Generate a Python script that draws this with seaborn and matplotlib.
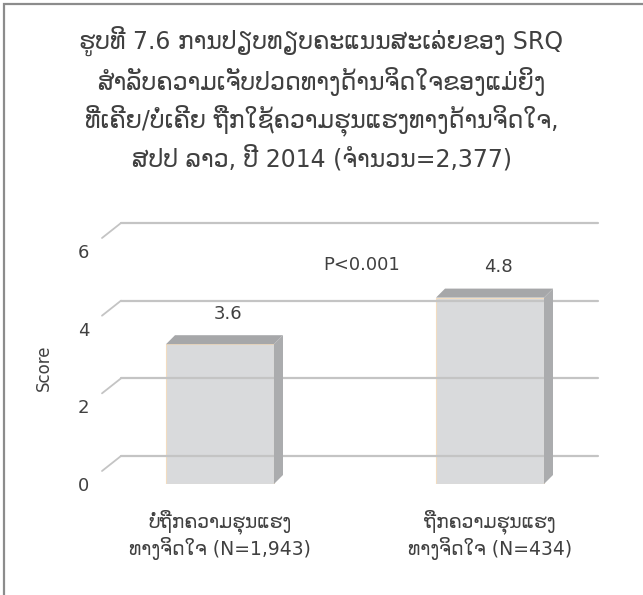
import matplotlib
matplotlib.use("Agg")
import matplotlib.pyplot as plt
import seaborn as sns
import pandas as pd
from matplotlib.patches import Polygon, Rectangle
from matplotlib.lines import Line2D
from matplotlib.transforms import IdentityTransform

# data
title = ("ຮູບທີ 7.6 ການປຽບທຽບຄະແນນສະເລ່ຍຂອງ SRQ\n"
         "ສໍາລັບຄວາມເຈັບປວດທາງດ້ານຈິດໃຈຂອງແມ່ຍິງ\n"
         "ທີ່ເຄີຍ/ບໍ່ເຄີຍ ຖືກໃຊ້ຄວາມຮຸນແຮງທາງດ້ານຈິດໃຈ,\n"
         "ສປປ ລາວ, ປີ 2014 (ຈໍານວນ=2,377)")
groups = ["ບໍ່ຖືກຄວາມຮຸນແຮງ\nທາງຈິດໃຈ (N=1,943)",
          "ຖືກຄວາມຮຸນແຮງ\nທາງຈິດໃຈ (N=434)"]
scores = [3.6, 4.8]
yticks = [0, 2, 4, 6]
p_text = "P<0.001"

sns.set_style("white")
plt.rcParams['font.family'] = ['DejaVu Sans']
txt = '#404040'

W, H = 643, 595
fig = plt.figure(figsize=(W / 100, H / 100), dpi=100)
ax = fig.add_axes([102 / W, (H - 484) / H, 496 / W, 233 / H])

df = pd.DataFrame({'group': groups, 'score': scores})
sns.barplot(data=df, x='group', y='score', color='#d9dadc', width=0.4,
            saturation=1, edgecolor='#f2dcc0', linewidth=0.8, ax=ax, zorder=3)
ax.set_xlim(-0.437, 1.4)
ax.set_ylim(0, 6)
sns.despine(ax=ax, left=True, bottom=True, top=True, right=True)

ax.set_yticks(yticks)
ax.set_yticklabels([str(t) for t in yticks], fontsize=13, color=txt)
ax.tick_params(axis='y', length=0, pad=9)
ax.tick_params(axis='x', length=0, pad=18)
ax.set_xticks([0, 1])
ax.set_xticklabels(groups, fontsize=13.5, color=txt, linespacing=1.2)
ax.set_xlabel('')
ax.set_ylabel('Score', fontsize=12, color=txt)
ax.yaxis.set_label_coords(-0.10, 0.5)

# back-wall gridlines with little slanted floor ticks
ident = IdentityTransform()
xl = ax.transAxes.transform((0, 0))[0]
for t in yticks:
    yf = ax.transData.transform((0, t))[1]
    ln1 = Line2D([xl, xl + 19], [yf + 13, yf + 28], transform=ident,
                 color='#c4c4c4', lw=1.3, zorder=1)
    ln2 = Line2D([xl + 19, xl + 496], [yf + 28, yf + 28], transform=ident,
                 color='#c4c4c4', lw=1.6, zorder=1)
    fig.add_artist(ln1)
    fig.add_artist(ln2)

# fake 3d faces on the bars
d = 9
for p, s in zip(ax.patches, scores):
    x0 = p.get_x()
    x1 = x0 + p.get_width()
    (pl, pb) = ax.transData.transform((x0, 0))
    (pr, pt) = ax.transData.transform((x1, p.get_height()))
    top = Polygon([(pl, pt), (pr, pt), (pr + d, pt + d), (pl + d, pt + d)],
                  closed=True, transform=ident, facecolor='#a6a7a9',
                  edgecolor='none', zorder=4)
    side = Polygon([(pr, pb), (pr, pt), (pr + d, pt + d), (pr + d, pb + d)],
                   closed=True, transform=ident, facecolor='#abacae',
                   edgecolor='none', zorder=4)
    fig.add_artist(top)
    fig.add_artist(side)
    ax.annotate(f"{s:.1f}", (x0 + p.get_width() / 2, p.get_height()),
                xytext=(6, 22), textcoords='offset points', ha='center',
                va='center', fontsize=13, color=txt)

ax.text(0.526, 5.64, p_text, ha='center', va='center', fontsize=13, color=txt)

fig.text(0.5, 1 - 100 / H, title, ha='center', va='center', fontsize=17,
         color=txt, linespacing=1.42)

# chart border (only left and top edges fall inside the image)
fig.add_artist(Rectangle((4 / W, -0.1), 1.5, 1.1 - 4 / H, transform=fig.transFigure,
                         fill=False, edgecolor='#8c8c8c', lw=1.6))

fig.savefig('out.png', dpi=100)
